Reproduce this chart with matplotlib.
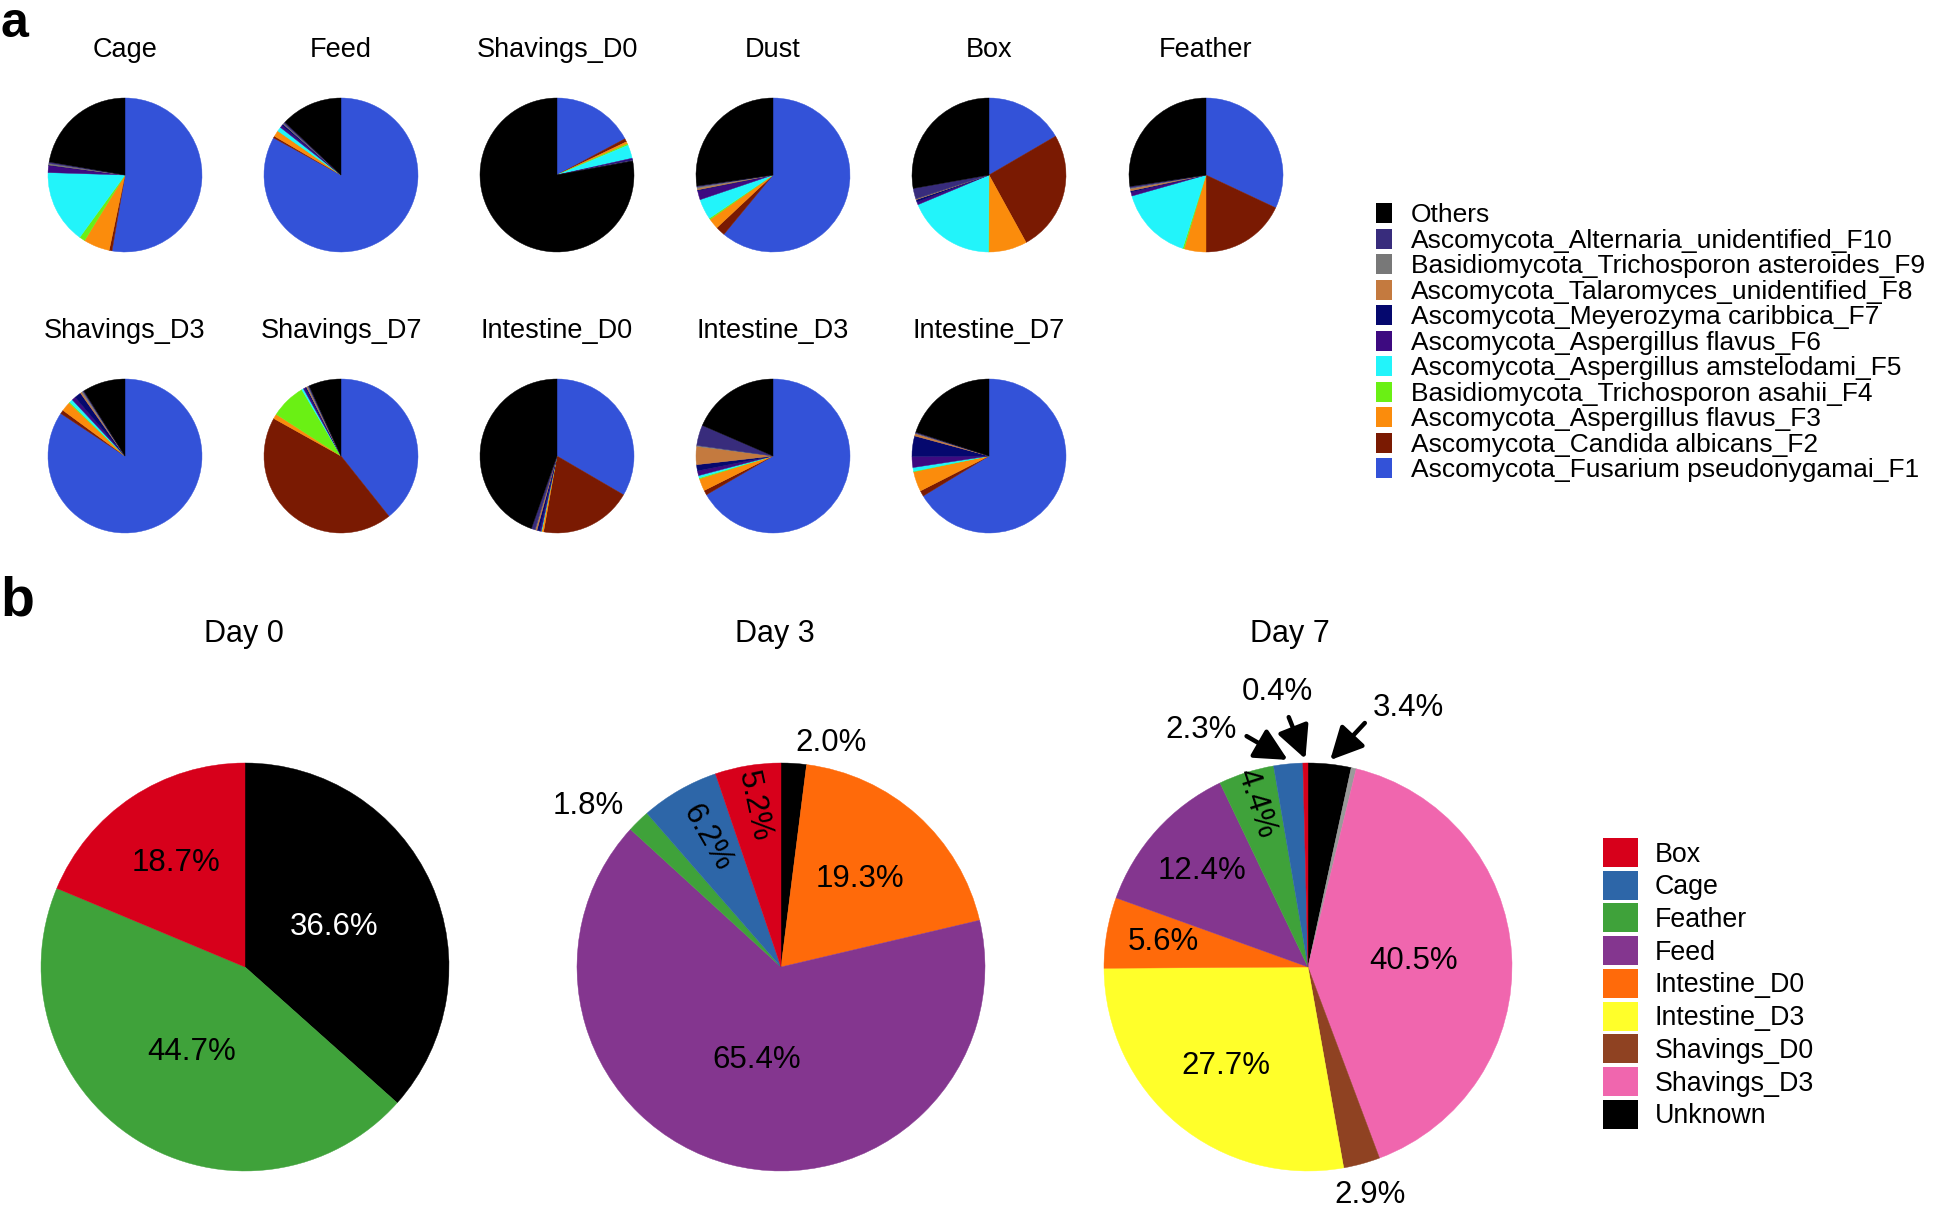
import numpy as np
import matplotlib.pyplot as plt
from matplotlib.patches import Patch

plt.rcParams['font.family'] = ['Liberation Sans', 'DejaVu Sans']

W, H = 1944, 1205

# ---------------- panel a: fungal taxa per sample (clockwise from 12 o'clock)
taxa = ['Ascomycota_Fusarium pseudonygamai_F1', 'Ascomycota_Candida albicans_F2',
        'Ascomycota_Aspergillus flavus_F3', 'Basidiomycota_Trichosporon asahii_F4',
        'Ascomycota_Aspergillus amstelodami_F5', 'Ascomycota_Aspergillus flavus_F6',
        'Ascomycota_Meyerozyma caribbica_F7', 'Ascomycota_Talaromyces_unidentified_F8',
        'Basidiomycota_Trichosporon asteroides_F9', 'Ascomycota_Alternaria_unidentified_F10',
        'Others']
taxa_colors = ['#3352d8', '#7a1a02', '#fb8c0c', '#6af014', '#22f4fa', '#3d0a80',
               '#05086e', '#c47a3f', '#787878', '#382c7c', '#000000']

samples = ['Cage', 'Feed', 'Shavings_D0', 'Dust', 'Box', 'Feather',
           'Shavings_D3', 'Shavings_D7', 'Intestine_D0', 'Intestine_D3', 'Intestine_D7']
cage         = [52.7, 0.6, 5.5, 1.2, 15.5, 1.5, 0.1, 0.0, 0.3, 0.3, 22.3]
feed         = [83.0, 0.4, 1.3, 0.0, 0.9, 0.5, 0.4, 0.0, 0.2, 0.3, 13.0]
shavings_d0  = [17.2, 0.7, 0.5, 0.3, 2.8, 0.3, 0.2, 0.0, 0.0, 0.1, 77.9]
dust         = [61.0, 2.0, 2.2, 0.3, 4.3, 1.9, 0.2, 0.3, 0.3, 0.2, 27.3]
box          = [16.6, 25.4, 8.0, 0.1, 18.6, 0.6, 0.5, 0.1, 0.1, 2.2, 27.8]
feather      = [32.0, 18.0, 4.6, 0.3, 15.7, 0.8, 0.3, 0.4, 0.2, 0.3, 27.4]
shavings_d3  = [84.3, 0.8, 2.0, 0.2, 0.7, 0.8, 1.4, 0.3, 0.3, 0.2, 9.0]
shavings_d7  = [39.3, 43.8, 1.0, 7.4, 0.4, 0.4, 0.3, 0.2, 0.2, 0.2, 6.8]
intestine_d0 = [33.4, 19.4, 0.4, 0.0, 0.1, 0.3, 0.6, 0.3, 0.1, 0.8, 44.6]
intestine_d3 = [66.6, 1.0, 2.6, 0.2, 0.5, 1.0, 1.3, 3.8, 0.2, 4.3, 18.5]
intestine_d7 = [66.3, 1.2, 4.2, 0.1, 0.8, 2.3, 4.3, 0.5, 0.1, 0.2, 20.0]
sample_values = [cage, feed, shavings_d0, dust, box, feather,
                 shavings_d3, shavings_d7, intestine_d0, intestine_d3, intestine_d7]

# ---------------- panel b: source tracking (clockwise from 12 o'clock)
sources = ['Box', 'Cage', 'Feather', 'Feed', 'Intestine_D0', 'Intestine_D3',
           'Shavings_D0', 'Shavings_D3', 'Unknown']
source_colors = {'Box': '#d7001b', 'Cage': '#2d66a8', 'Feather': '#3fa23a',
                 'Feed': '#84368f', 'Intestine_D0': '#ff6a0a', 'Intestine_D3': '#ffff2a',
                 'Shavings_D0': '#8f4222', 'Shavings_D3': '#f066ae', 'Unknown': '#000000',
                 'Other': '#9a9a9a'}
days = ['Day 0', 'Day 3', 'Day 7']
day0_src = ['Unknown', 'Feather', 'Box']
day0_pct = [36.6, 44.7, 18.7]
day3_src = ['Unknown', 'Intestine_D0', 'Feed', 'Feather', 'Cage', 'Box']
day3_pct = [2.0, 19.3, 65.4, 1.8, 6.2, 5.2]
day7_src = ['Unknown', 'Other', 'Shavings_D3', 'Shavings_D0', 'Intestine_D3',
            'Intestine_D0', 'Feed', 'Feather', 'Cage', 'Box']
day7_pct = [3.4, 0.4, 40.5, 2.9, 27.7, 5.6, 12.4, 4.4, 2.3, 0.4]

# label styles: (kind, distance, rotation, ha)
day0_lbl = [('in', 0.48, 0, 'center'), ('in', 0.49, 0, 'center'), ('in', 0.61, 0, 'center')]
day3_lbl = [('out', 1.1, 0, 'left'), ('in', 0.58, 0, 'center'), ('in', 0.47, 0, 'center'),
            ('out', 1.1, 0, 'right'), ('in', 0.73, -60, 'center'), ('in', 0.8, -78, 'center')]
day7_lbl = [('arrow', (0.32, 1.27), 0, 'left'), None, ('in', 0.52, 0, 'center'),
            ('out', 1.16, 0, 'center'), ('in', 0.63, 0, 'center'), ('in', 0.72, 0, 'center'),
            ('in', 0.70, 0, 'center'), ('in', 0.84, -72, 'center'),
            ('arrow', (-0.35, 1.16), 0, 'right'), ('arrow', (-0.15, 1.35), 0, 'center')]

fig = plt.figure(figsize=(W / 100, H / 100), dpi=100)


def pie_axes(cx, cy, r):
    ax = fig.add_axes([(cx - r) / W, 1 - (cy + r) / H, 2 * r / W, 2 * r / H])
    return ax


def draw_pie(ax, vals, cols):
    wedges, _ = ax.pie(vals, colors=cols, startangle=90, counterclock=False, radius=1,
                       labeldistance=None)
    for w, c in zip(wedges, cols):
        w.set_edgecolor(c)
        w.set_linewidth(0.3)
    ax.set_xlim(-1, 1)
    ax.set_ylim(-1, 1)
    ax.set_aspect('auto')
    return wedges


# panel a
col_x = [125, 341, 557, 773, 989, 1206]
row_y = [175, 456]
small_r = 77
for i, (name, vals) in enumerate(zip(samples, sample_values)):
    row, col = divmod(i, 6)
    ax = pie_axes(col_x[col], row_y[row], small_r)
    draw_pie(ax, vals, taxa_colors)
    ax.text(0.5, 1.265, name, transform=ax.transAxes, ha='center', va='baseline',
            fontsize=19.5)

handles_a = [Patch(facecolor=c, edgecolor='none') for c in taxa_colors[::-1]]
fig.legend(handles_a, taxa[::-1], loc='upper left', bbox_to_anchor=(1376 / W, 1 - 203 / H),
           frameon=False, borderpad=0, borderaxespad=0, fontsize=19,
           handlelength=0.6, handleheight=0.79, handletextpad=0.72, labelspacing=0.05)

# panel b
big_x = [245, 781, 1308]
big_y = 967
big_r = 204
title_x = [244, 775, 1290]
for k, (day, srcs, pcts, lbls) in enumerate(zip(days, [day0_src, day3_src, day7_src],
                                                [day0_pct, day3_pct, day7_pct],
                                                [day0_lbl, day3_lbl, day7_lbl])):
    ax = pie_axes(big_x[k], big_y, big_r)
    pcts = np.array(pcts)
    draw_pie(ax, pcts, [source_colors[s] for s in srcs])
    fig.text(title_x[k] / W, 1 - 642 / H, day, ha='center', va='baseline', fontsize=22)
    mid = np.cumsum(pcts) - pcts / 2
    theta = np.deg2rad(90 - mid / pcts.sum() * 360)
    for j, st in enumerate(lbls):
        if st is None:
            continue
        kind, d, rot, ha = st
        txt = f'{pcts[j]:.1f}%'
        if kind == 'arrow':
            tip = (1.02 * np.cos(theta[j]), 1.02 * np.sin(theta[j]))
            relpos = {'left': (0.0, 0.3), 'right': (1.0, 0.5), 'center': (0.6, 0.0)}[ha]
            ax.annotate(txt, xy=tip, xytext=d, ha=ha, va='center', fontsize=22.5,
                        annotation_clip=False,
                        arrowprops=dict(arrowstyle='-|>,head_length=0.9,head_width=0.45',
                                        color='black', lw=3.2, shrinkA=6, shrinkB=0,
                                        relpos=relpos, mutation_scale=22))
        else:
            col = 'white' if srcs[j] == 'Unknown' and kind == 'in' else 'black'
            ax.text(d * np.cos(theta[j]), d * np.sin(theta[j]), txt, ha=ha, va='center',
                    rotation=rot, rotation_mode='anchor', fontsize=22.5, color=col,
                    clip_on=False)

handles_b = [Patch(facecolor=source_colors[s], edgecolor='none') for s in sources]
fig.legend(handles_b, sources, loc='upper left', bbox_to_anchor=(1603 / W, 1 - 838 / H),
           frameon=False, borderpad=0, borderaxespad=0, fontsize=19.3,
           handlelength=1.3, handleheight=1.29, handletextpad=0.63, labelspacing=0.12)

fig.text(0 / W, 1 - 37 / H, 'a', fontsize=36, fontweight='bold', va='baseline')
fig.text(0 / W, 1 - 616 / H, 'b', fontsize=40, fontweight='bold', va='baseline')

fig.savefig('out.png', dpi=100)
